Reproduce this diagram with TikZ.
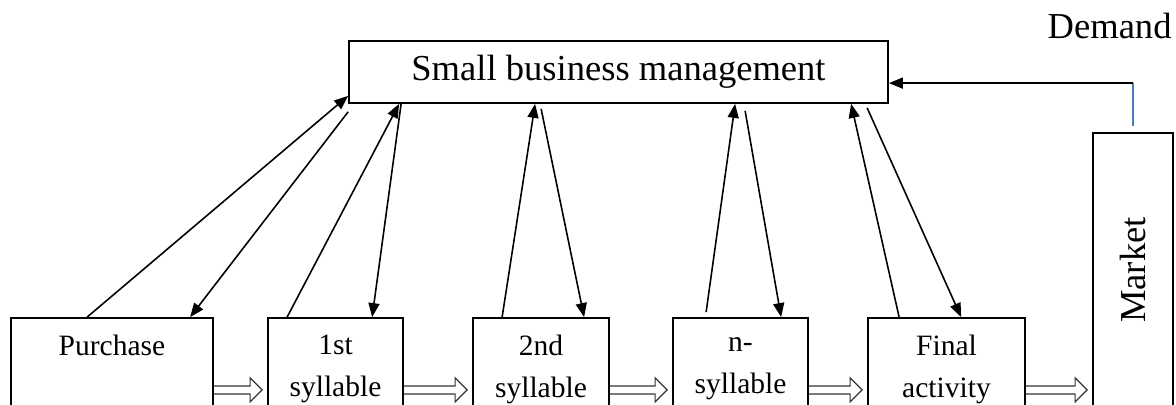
\documentclass[tikz,border=0pt]{standalone}
\usepackage{fontspec}
\setmainfont{Liberation Serif}
\usepackage{tikz}
\usetikzlibrary{arrows.meta,calc}

\definecolor{demandblue}{HTML}{4A7EBB}
\newcommand\largetext{\fontsize{10.4}{12.5}\selectfont}
\newcommand\smalltext{\fontsize{8.4}{11.95}\selectfont}

\tikzset{
  stage/.style={draw, line width=.5pt, minimum height=10.2mm, inner sep=0pt, align=center, font=\smalltext},
  link/.style={line width=.45pt, -{Triangle[length=1.4mm, width=1.1mm]}},
  hollow/.style={draw=black!80, line width=.35pt, to path={let \p1=(\tikztostart), \p2=(\tikztotarget) in
    (\x1,\y1+.4mm) -- (\x2-1.2mm,\y1+.4mm) -- (\x2-1.2mm,\y1+1.2mm) -- (\x2,\y1)
    -- (\x2-1.2mm,\y1-1.2mm) -- (\x2-1.2mm,\y1-.4mm) -- (\x1,\y1-.4mm)}}
}

\begin{document}
\begin{tikzpicture}[x=.1mm, y=-.1mm]
    \useasboundingbox (0,0) rectangle (1176,405);
    \clip (0,0) rectangle (1176,405);
    \node[draw, line width=.5pt, minimum width=53.9mm, minimum height=6.2mm, font=\largetext] (sbm) at (618.5,72) {Small business management};
    \node[anchor=base west, inner sep=0pt, font=\largetext] (demand) at (1047,39) {Demand};
    \node[draw, line width=.5pt, minimum width=8mm, minimum height=27.4mm, inner sep=0pt, font=\largetext] (market) at (1133,270) {\rotatebox{90}{Market}};
    % the chain of stages
    \node[stage, minimum width=20.2mm] (purchase) at (112,369) {Purchase\\\phantom{y}};
    \node[stage, minimum width=13.5mm] (syl1) at (335.5,369) {1st\\syllable};
    \node[stage, minimum width=13.6mm] (syl2) at (541,369) {2nd\\syllable};
    \node[stage, minimum width=13.5mm] (syln) at (740.5,369) {n-\\syllable};
    \node[stage, minimum width=15.7mm] (final) at (946.5,369) {Final\\activity};
    % up and down to the management
    \draw[link] ($(purchase.north west)+(77,0)$) -- ($(sbm.south west)+(0,-8)$);
    \draw[link] ($(sbm.south west)+(0,8)$) -- ($(purchase.north west)+(180,0)$);
    \draw[link] ($(syl1.north west)+(20,0)$) -- ($(sbm.south west)+(51,0)$);
    \draw[link] ($(sbm.south west)+(53,0)$) -- ($(syl1.north west)+(105,0)$);
    \draw[link] ($(syl2.north west)+(30,0)$) -- ($(sbm.south west)+(187,0)$);
    \draw[link] ($(sbm.south west)+(193,5)$) -- ($(syl2.north west)+(112,0)$);
    \draw[link] ($(syln.north west)+(34,-5)$) -- ($(sbm.south west)+(387,0)$);
    \draw[link] ($(sbm.south west)+(397,7)$) -- ($(syln.north west)+(109,0)$);
    \draw[link] ($(final.north west)+(32,0)$) -- ($(sbm.south west)+(503,0)$);
    \draw[link] ($(sbm.south west)+(519,4)$) -- ($(final.north west)+(94,0)$);
    % demand
    \coordinate (bend) at ($(market.north)+(0,-49)$);
    \draw[demandblue, line width=.4pt] ($(market.north)+(0,-6)$) -- (bend);
    \draw[link] (bend) -- (bend -| sbm.east);
    % flow between the stages
    \draw[hollow] ($(purchase.east)+(0,21)$) to ($(syl1.west)+(-5,21)$);
    \draw[hollow] ($(syl1.east)+(0,21)$) to ($(syl2.west)+(-5,21)$);
    \draw[hollow] ($(syl2.east)+(0,21)$) to ($(syln.west)+(-5,21)$);
    \draw[hollow] ($(syln.east)+(0,21)$) to ($(final.west)+(-5,21)$);
    \draw[hollow] ($(final.east)+(0,21)$) to ($(market.west |- final.east)+(-5,21)$);
\end{tikzpicture}
\end{document}
